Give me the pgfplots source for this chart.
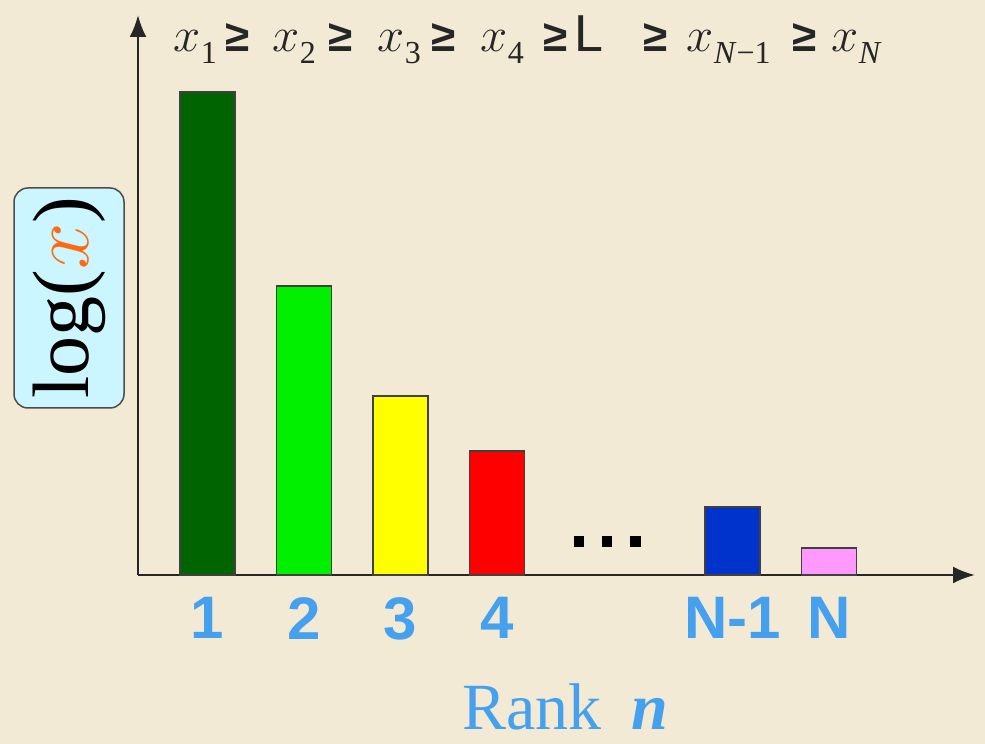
\documentclass[border=0pt]{standalone}
\usepackage{pgfplots}
\pgfplotsset{compat=1.18}
\usepackage{fontspec}
\setmainfont{Liberation Serif}
\newfontfamily\ticksfont{Liberation Sans}
\usetikzlibrary{arrows.meta}
\definecolor{bg}{HTML}{F2EAD5}
\definecolor{tickblue}{HTML}{45A0EE}
\definecolor{boxcyan}{HTML}{CCF6FF}
\definecolor{xorange}{HTML}{FF6A10}
\definecolor{cA}{HTML}{006400}
\definecolor{cB}{HTML}{00F000}
\definecolor{cC}{HTML}{FFFF00}
\definecolor{cD}{HTML}{FF0000}
\definecolor{cE}{HTML}{0033CC}
\definecolor{cF}{HTML}{FF99FF}
\newcommand{\bigx}[1]{{\fontsize{20}{20}\selectfont\scalebox{#1}{$x$}}}
\newcommand{\X}[1]{\rmfamily\bigx{2.35}\kern0.5pt\raisebox{-12pt}{\fontsize{32}{32}\selectfont #1}}
\newcommand{\G}{\ticksfont\bfseries\fontsize{44}{44}\selectfont ≥}
\begin{document}
\begin{tikzpicture}[x=1pt,y=1pt]
\fill[bg] (0,0) rectangle (985,744);
\begin{axis}[
  at={(138pt,169pt)}, anchor=south west,
  scale only axis, width=837pt, height=560pt,
  xmin=0.28, xmax=8.95, ymin=0, ymax=560,
  axis lines=left,
  axis line style={line width=2.5pt, black!85, -{Latex[length=22pt,width=17pt]}},
  xtick={1,2,3,4,6.44,7.44},
  xticklabels={1,2,3,4,N-1,N},
  ytick=\empty,
  major tick length=0pt,
  xticklabel style={font=\ticksfont\bfseries\fontsize{60}{60}\selectfont, text=tickblue, yshift=-19pt},
  clip=false,
]
\addplot[ybar, bar width=55pt, bar shift=0pt, fill=cA, draw=black!75, line width=1.5pt] coordinates {(1,483)};
\addplot[ybar, bar width=55pt, bar shift=0pt, fill=cB, draw=black!75, line width=1.5pt] coordinates {(2,289)};
\addplot[ybar, bar width=55pt, bar shift=0pt, fill=cC, draw=black!75, line width=1.5pt] coordinates {(3,179)};
\addplot[ybar, bar width=55pt, bar shift=0pt, fill=cD, draw=black!75, line width=1.5pt] coordinates {(4,124)};
\addplot[ybar, bar width=55pt, bar shift=0pt, fill=cE, draw=black!75, line width=1.5pt] coordinates {(6.44,68)};
\addplot[ybar, bar width=55pt, bar shift=0pt, fill=cF, draw=black!75, line width=1.5pt] coordinates {(7.44,27)};
\node[inner sep=0pt] at (axis cs:5.14,33) {\rule{10pt}{11pt}\hspace{18pt}\rule{10pt}{11pt}\hspace{18pt}\rule{11pt}{11pt}};
\end{axis}
% top ordering formula
\begin{scope}[every node/.style={inner sep=0pt, anchor=base west, text=black!85}]
\node at (173,692) {\X{1}};
\node[anchor=base] at (238,692) {\G};
\node at (272,692) {\X{2}};
\node[anchor=base] at (341,692) {\G};
\node at (377,692) {\X{3}};
\node[anchor=base] at (444,692) {\G};
\node at (480,692) {\X{4}};
\node[anchor=base] at (556,692) {\G};
\node at (574,692) {\ticksfont\fontsize{52}{52}\selectfont L};
\node[anchor=base] at (656,692) {\G};
\node at (686,692) {\X{\textit{N}−1}};
\node[anchor=base] at (805,692) {\G};
\node at (831,692) {\X{\textit{N}}};
\end{scope}
\node[rotate=90, draw=black!70, line width=1.5pt, fill=boxcyan, rounded corners=14pt,
      minimum width=220pt, minimum height=110pt, font=\fontsize{80}{80}\selectfont]
  at (69,446) {log(\textcolor{xorange}{\bigx{4}})};
\node[font=\fontsize{66}{66}\selectfont, text=tickblue, anchor=base] at (565,14) {Rank\kern0.45em\textbf{\textit{n}}};
\end{tikzpicture}
\end{document}
